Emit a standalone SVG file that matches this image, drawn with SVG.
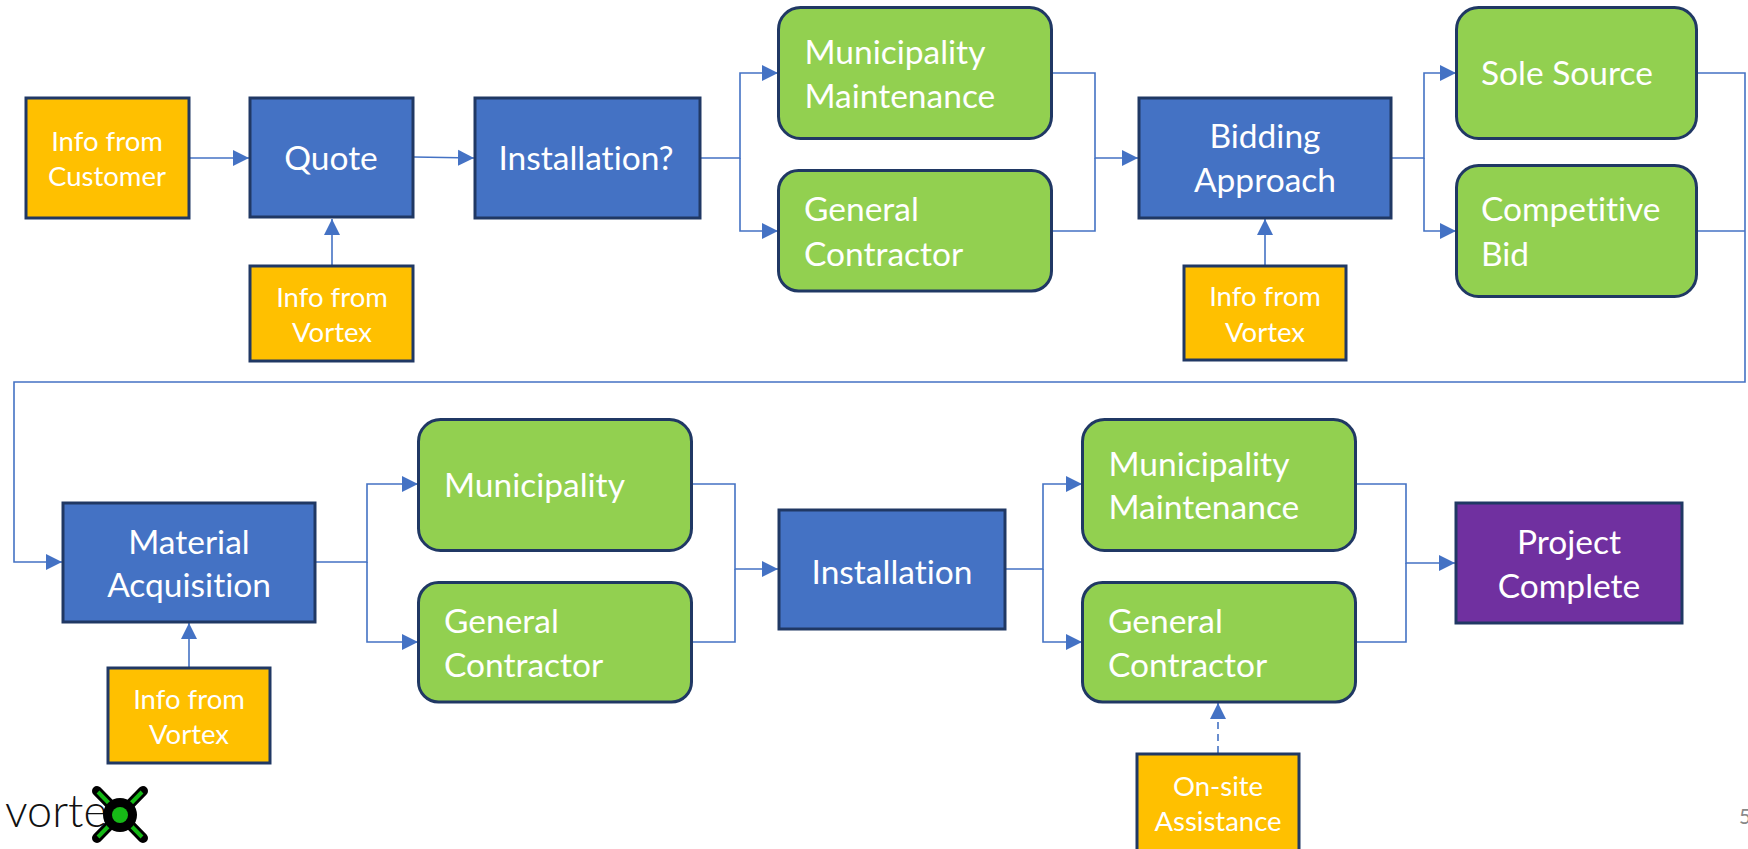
<svg xmlns="http://www.w3.org/2000/svg" width="1748" height="849" viewBox="0 0 1748 849">
<style>
.n{stroke:#203864;stroke-width:3}
.b{fill:#4472C4}.g{fill:#92D050}.a{fill:#FFC000}.p{fill:#7030A0}
text{font-family:"Lato","Open Sans","Liberation Sans",sans-serif;fill:#fff;font-variant-ligatures:none}
.t{font-size:33.5px}.s{font-size:27.5px}.m{text-anchor:middle}
.c{fill:none;stroke:#4472C4;stroke-width:1.6}
</style>
<defs>
<marker id="ah" markerUnits="userSpaceOnUse" markerWidth="17" markerHeight="17" refX="16" refY="8.5" orient="auto"><path d="M0 0.5L16 8.5L0 16.5Z" fill="#4472C4"/></marker>
</defs>
<g id="connectors">
<path class="c" marker-end="url(#ah)" d="M190 158H249"/>
<path class="c" marker-end="url(#ah)" d="M414 157L474 158"/>
<path class="c" marker-end="url(#ah)" d="M332 265V219"/>
<path class="c" marker-end="url(#ah)" d="M701 158H740V73H778"/>
<path class="c" marker-end="url(#ah)" d="M740 158V231H778"/>
<path class="c" marker-end="url(#ah)" d="M1052 73H1095V158H1138"/>
<path class="c" d="M1052 231H1095V158"/>
<path class="c" marker-end="url(#ah)" d="M1265 265V219"/>
<path class="c" marker-end="url(#ah)" d="M1392 158H1424V73H1456"/>
<path class="c" marker-end="url(#ah)" d="M1424 158V231H1456"/>
<path class="c" marker-end="url(#ah)" d="M1697 73H1745V382H14V562H62"/>
<path class="c" d="M1697 231H1745"/>
<path class="c" marker-end="url(#ah)" d="M189 667V623"/>
<path class="c" marker-end="url(#ah)" d="M316 562H367V484H418"/>
<path class="c" marker-end="url(#ah)" d="M367 562V642H418"/>
<path class="c" marker-end="url(#ah)" d="M692 484H735V569H778"/>
<path class="c" d="M692 642H735V569"/>
<path class="c" marker-end="url(#ah)" d="M1006 569H1043V484H1082"/>
<path class="c" marker-end="url(#ah)" d="M1043 569V642H1082"/>
<path class="c" marker-end="url(#ah)" d="M1356 484H1406V563H1455"/>
<path class="c" d="M1356 642H1406V563"/>
<path class="c" stroke-dasharray="7 5" marker-end="url(#ah)" d="M1218 753V703"/>
</g>
<g id="n1"><rect class="n a" x="26" y="98" width="163" height="120"/><text class="s m" x="107" y="151">Info from</text><text class="s m" x="107" y="186">Customer</text></g>
<g id="n2"><rect class="n b" x="250" y="98" width="163" height="119"/><text class="t m" x="331" y="170">Quote</text></g>
<g id="n3"><rect class="n a" x="250" y="266" width="163" height="95"/><text class="s m" x="332" y="307">Info from</text><text class="s m" x="332" y="342">Vortex</text></g>
<g id="n4"><rect class="n b" x="475" y="98" width="225" height="120"/><text class="t m" x="586" y="170">Installation?</text></g>
<g id="n5"><rect class="n g" x="778.500" y="7.500" width="273" height="131" rx="22"/><text class="t" x="804.500" y="64">Municipality</text><text class="t" x="804.500" y="108">Maintenance</text></g>
<g id="n6"><rect class="n g" x="778.500" y="170.500" width="273" height="120.500" rx="20"/><text class="t" x="804" y="221">General</text><text class="t" x="804" y="266">Contractor</text></g>
<g id="n7"><rect class="n b" x="1139" y="98" width="252" height="120"/><text class="t m" x="1265" y="148">Bidding</text><text class="t m" x="1265" y="192">Approach</text></g>
<g id="n8"><rect class="n a" x="1184" y="266" width="162" height="94"/><text class="s m" x="1265" y="306">Info from</text><text class="s m" x="1265" y="342">Vortex</text></g>
<g id="n9"><rect class="n g" x="1456.500" y="7.500" width="240" height="131" rx="22"/><text class="t" x="1481" y="85">Sole Source</text></g>
<g id="n10"><rect class="n g" x="1456.500" y="165.500" width="240" height="131" rx="22"/><text class="t" x="1481" y="221">Competitive</text><text class="t" x="1481" y="266">Bid</text></g>
<g id="n11"><rect class="n b" x="63" y="503" width="252" height="119"/><text class="t m" x="189" y="554">Material</text><text class="t m" x="189" y="597">Acquisition</text></g>
<g id="n12"><rect class="n a" x="108" y="668" width="162" height="95"/><text class="s m" x="189" y="709">Info from</text><text class="s m" x="189" y="744">Vortex</text></g>
<g id="n13"><rect class="n g" x="418.500" y="419.500" width="273" height="131" rx="22"/><text class="t" x="444" y="497">Municipality</text></g>
<g id="n14"><rect class="n g" x="418.500" y="582.500" width="273" height="119.500" rx="20"/><text class="t" x="444" y="633">General</text><text class="t" x="444" y="677">Contractor</text></g>
<g id="n15"><rect class="n b" x="779" y="510" width="226" height="119"/><text class="t m" x="892" y="584">Installation</text></g>
<g id="n16"><rect class="n g" x="1082.500" y="419.500" width="273" height="131" rx="22"/><text class="t" x="1108.500" y="476">Municipality</text><text class="t" x="1108.500" y="519">Maintenance</text></g>
<g id="n17"><rect class="n g" x="1082.500" y="582.500" width="273" height="119.500" rx="20"/><text class="t" x="1108" y="633">General</text><text class="t" x="1108" y="677">Contractor</text></g>
<g id="n18"><rect class="n p" x="1456" y="503" width="226" height="120"/><text class="t m" x="1569" y="554">Project</text><text class="t m" x="1569" y="598">Complete</text></g>
<g id="n19"><rect class="n a" x="1137" y="754" width="162" height="97"/><text class="s m" x="1218" y="796">On-site</text><text class="s m" x="1218" y="831">Assistance</text></g>
<g id="logo">
<text x="5" y="827" style="fill:#111;font-size:45px;font-weight:300">vorte</text>
<path d="M97 791L143 838M143 791L97 838" stroke="#000" stroke-width="10" stroke-linecap="round"/>
<path d="M98 792L142 837M142 792L98 837" stroke="#16B916" stroke-width="4"/>
<circle cx="120" cy="815" r="17" fill="#000"/><circle cx="120" cy="815" r="8" fill="#16B916"/>
</g>
<text id="page" x="1739" y="824" style="fill:#898989;font-size:21px">5</text>
</svg>
